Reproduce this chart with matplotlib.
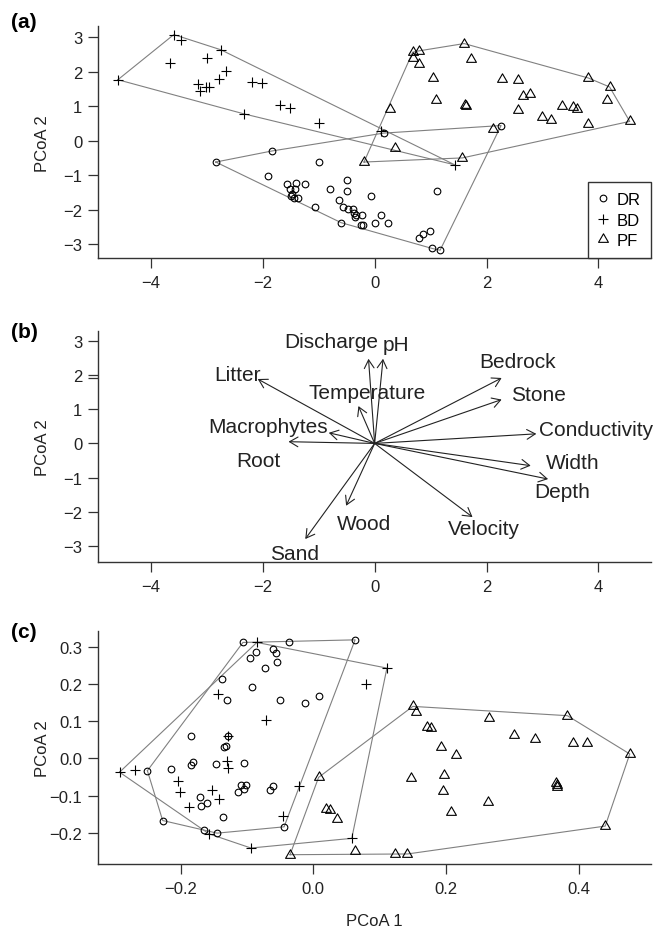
import matplotlib.pyplot as plt
import numpy as np
from matplotlib.path import Path
from matplotlib.ticker import FuncFormatter

plt.rcParams['font.family'] = ['Liberation Sans', 'DejaVu Sans']

groups = ['DR', 'BD', 'PF']

# ---- panel (a): PCoA of sites ----
a_dr_x = [-2.84, -1.84, -1.00, -1.90, -1.56, -1.40, -1.24, -1.51, -1.42, -1.48, -1.49, -1.45, -1.37,
          -1.06, -0.79, -0.50, -0.50, -0.06, 1.11, -0.63, -0.57, -0.47, -0.39, -0.37, -0.33, -0.23,
          -0.35, 0.11, -0.60, -0.24, -0.20, 0.00, 0.23, 0.99, 0.86, 0.80, 1.03, 1.17, 2.26, 0.16]
a_dr_y = [-0.62, -0.30, -0.62, -1.03, -1.27, -1.22, -1.27, -1.39, -1.39, -1.54, -1.61, -1.66, -1.65,
          -1.92, -1.41, -1.13, -1.47, -1.61, -1.46, -1.73, -1.92, -1.97, -1.99, -2.09, -2.17, -2.17,
          -2.22, -2.17, -2.38, -2.44, -2.44, -2.39, -2.39, -2.62, -2.71, -2.84, -3.13, -3.18, 0.44, 0.22]
a_bd_x = [-4.59, -3.59, -3.46, -3.65, -2.75, -3.00, -2.65, -2.79, -3.15, -3.13, -3.02, -2.96, -2.19,
          -2.01, -1.69, -1.52, -2.34, -0.99, 0.12, 1.43]
a_bd_y = [1.77, 3.08, 2.93, 2.25, 2.64, 2.40, 2.01, 1.80, 1.65, 1.45, 1.55, 1.55, 1.70,
          1.68, 1.03, 0.96, 0.78, 0.52, 0.28, -0.70]
a_pf_x = [-0.19, 0.28, 0.68, 0.80, 0.68, 0.80, 1.60, 1.72, 1.04, 2.28, 2.57, 1.09, 1.62, 1.64, 2.65,
          2.78, 2.57, 3.35, 3.54, 3.61, 4.16, 3.00, 3.16, 3.81, 2.11, 0.37, 3.82, 4.20, 4.56, 1.57]
a_pf_y = [-0.62, 0.93, 2.57, 2.61, 2.40, 2.24, 2.82, 2.38, 1.83, 1.80, 1.76, 1.19, 1.04, 1.02, 1.30,
          1.37, 0.88, 1.01, 0.98, 0.93, 1.17, 0.69, 0.61, 0.49, 0.35, -0.21, 1.82, 1.56, 0.56, -0.50]

# ---- panel (b): environmental vectors ----
env_names = ['Litter', 'Macrophytes', 'Root', 'Temperature', 'Discharge', 'pH', 'Bedrock', 'Stone',
             'Conductivity', 'Width', 'Depth', 'Velocity', 'Wood', 'Sand']
env_x = [-2.09, -0.82, -1.54, -0.29, -0.11, 0.15, 2.27, 2.27, 2.89, 2.79, 3.10, 1.75, -0.51, -1.24]
env_y = [1.88, 0.31, 0.05, 1.09, 2.47, 2.47, 1.91, 1.28, 0.28, -0.65, -1.04, -2.15, -1.82, -2.79]
env_lab_x = [-2.46, -1.90, -2.07, -0.13, -0.78, 0.39, 2.56, 2.93, 3.95, 3.54, 3.35, 1.95, -0.19, -1.44]
env_lab_y = [2.00, 0.50, -0.50, 1.49, 2.97, 2.90, 2.39, 1.44, 0.42, -0.57, -1.41, -2.49, -2.35, -3.22]

# ---- panel (c): PCoA ----
c_dr_x = [-0.106, -0.036, -0.087, -0.096, -0.061, -0.056, -0.054, -0.073, -0.138, -0.092, -0.130,
          -0.050, -0.012, 0.008, -0.184, -0.128, -0.132, -0.135, -0.182, -0.184, -0.215, -0.146,
          -0.104, -0.250, -0.109, -0.101, -0.104, -0.114, -0.065, -0.060, -0.170, -0.169, -0.160,
          -0.136, -0.227, -0.165, -0.145, -0.044, 0.063]
c_dr_y = [0.312, 0.312, 0.285, 0.269, 0.294, 0.283, 0.260, 0.243, 0.214, 0.191, 0.157,
          0.157, 0.148, 0.169, 0.059, 0.061, 0.034, 0.030, -0.010, -0.019, -0.028, -0.015,
          -0.011, -0.033, -0.071, -0.071, -0.082, -0.089, -0.085, -0.073, -0.103, -0.129, -0.120,
          -0.158, -0.167, -0.192, -0.201, -0.184, 0.319]
c_bd_x = [-0.292, -0.269, -0.085, -0.143, -0.072, -0.129, -0.130, -0.128, -0.204, -0.201, -0.152,
          -0.142, -0.187, -0.022, -0.046, -0.157, -0.094, 0.111, 0.080, 0.058]
c_bd_y = [-0.037, -0.030, 0.312, 0.173, 0.104, 0.061, -0.006, -0.026, -0.062, -0.091, -0.085,
          -0.109, -0.130, -0.073, -0.154, -0.203, -0.241, 0.243, 0.199, -0.215]
c_pf_x = [0.008, -0.035, 0.019, 0.025, 0.036, 0.063, 0.123, 0.142, 0.150, 0.155, 0.171, 0.177,
          0.265, 0.383, 0.477, 0.440, 0.193, 0.215, 0.302, 0.334, 0.392, 0.412, 0.147, 0.197,
          0.195, 0.208, 0.264, 0.366, 0.367, 0.368]
c_pf_y = [-0.051, -0.259, -0.136, -0.138, -0.163, -0.250, -0.257, -0.257, 0.140, 0.124, 0.085,
          0.081, 0.109, 0.115, 0.012, -0.182, 0.032, 0.008, 0.063, 0.051, 0.041, 0.041, -0.053,
          -0.044, -0.087, -0.143, -0.116, -0.067, -0.072, -0.077]

tri = Path([(0, 1), (-0.866, -0.5), (0.866, -0.5), (0, 1)], closed=True)
marker_style = {'DR': ('o', 4.8), 'BD': ('+', 7.4), 'PF': (tri, 8.2)}
hull_color = '#808080'
ink = '#222222'

W, H = 656, 929


def convex_hull(xs, ys):
    pts = sorted(set(zip(xs, ys)))

    def cross(o, a, b):
        return (a[0] - o[0]) * (b[1] - o[1]) - (a[1] - o[1]) * (b[0] - o[0])

    lower, upper = [], []
    for p in pts:
        while len(lower) >= 2 and cross(lower[-2], lower[-1], p) <= 0:
            lower.pop()
        lower.append(p)
    for p in reversed(pts):
        while len(upper) >= 2 and cross(upper[-2], upper[-1], p) <= 0:
            upper.pop()
        upper.append(p)
    ring = lower[:-1] + upper[:-1]
    ring.append(ring[0])
    return np.array(ring)


def px_axes(left, top, right, bottom):
    return fig.add_axes([left / W, 1 - bottom / H, (right - left) / W, (bottom - top) / H])


def style_axes(ax, xlim, ylim, xticks, yticks, fmt):
    ax.set_xlim(xlim)
    ax.set_ylim(ylim)
    ax.spines[['top', 'right']].set_visible(False)
    for s in ('left', 'bottom'):
        ax.spines[s].set_linewidth(1.0)
        ax.spines[s].set_color('#333333')
    ax.set_xticks(xticks)
    ax.set_yticks(yticks)
    f = FuncFormatter(lambda v, _: (fmt % v).replace('-', '\u2212'))
    ax.xaxis.set_major_formatter(f)
    ax.yaxis.set_major_formatter(f)
    ax.tick_params(direction='out', length=7, width=0.9, color='#333333',
                   labelsize=12, labelcolor=ink)
    ax.tick_params(axis='x', pad=5)
    ax.tick_params(axis='y', pad=4.5)
    ax.set_ylabel('PCoA 2', fontsize=12, color=ink)
    ax.yaxis.set_label_coords(-0.087, 0.5)


def scatter_groups(ax, data):
    for g, (xs, ys) in zip(groups, data):
        ring = convex_hull(xs, ys)
        ax.plot(ring[:, 0], ring[:, 1], color=hull_color, lw=0.8, zorder=1)
    for g, (xs, ys) in zip(groups, data):
        m, ms = marker_style[g]
        ax.plot(xs, ys, ls='none', marker=m, ms=ms, mfc='none', mec='black', mew=0.8,
                label=g, zorder=2)


fig = plt.figure(figsize=(W / 100, H / 100), dpi=100)

# (a)
ax_a = px_axes(98.3, 27, 651, 259.3)
scatter_groups(ax_a, [(a_dr_x, a_dr_y), (a_bd_x, a_bd_y), (a_pf_x, a_pf_y)])
style_axes(ax_a, (-4.94, 4.94), (-3.415, 3.33), [-4, -2, 0, 2, 4], [-3, -2, -1, 0, 1, 2, 3], '%.0f')
leg = ax_a.legend(loc='lower right', bbox_to_anchor=(1, 0), borderaxespad=0, fontsize=12,
                  frameon=True, fancybox=False, framealpha=1, edgecolor='#333333',
                  numpoints=1, handlelength=0.6, handletextpad=0.55, borderpad=0.6,
                  labelspacing=0.34)
leg.get_frame().set_linewidth(1.0)

# (b)
ax_b = px_axes(98.3, 331.7, 651, 563.3)
for name, x, y, lx, ly in zip(env_names, env_x, env_y, env_lab_x, env_lab_y):
    ax_b.annotate('', xy=(x, y), xytext=(0, 0),
                  arrowprops=dict(arrowstyle='->,head_length=0.6,head_width=0.35',
                                  color=ink, lw=0.8, shrinkA=0, shrinkB=0, mutation_scale=10))
    ax_b.text(lx, ly, name, fontsize=15, color=ink, ha='center', va='center')
style_axes(ax_b, (-4.94, 4.94), (-3.47, 3.29), [-4, -2, 0, 2, 4], [-3, -2, -1, 0, 1, 2, 3], '%.0f')
ax_b.set_yticks([1.92], minor=True)
ax_b.tick_params(axis='y', which='minor', direction='out', length=7, width=0.9, color='#333333')

# (c)
ax_c = px_axes(98.3, 632.3, 651, 865)
scatter_groups(ax_c, [(c_dr_x, c_dr_y), (c_bd_x, c_bd_y), (c_pf_x, c_pf_y)])
style_axes(ax_c, (-0.324, 0.509), (-0.284, 0.342), [-0.2, 0.0, 0.2, 0.4],
           [-0.2, -0.1, 0.0, 0.1, 0.2, 0.3], '%.1f')
ax_c.set_xlabel('PCoA 1', fontsize=12, color=ink)
ax_c.xaxis.set_label_coords(0.5, -0.212)

# panel letters
for lab, ypx in [('(a)', 23), ('(b)', 332.5), ('(c)', 632.5)]:
    fig.text(11 / W, 1 - ypx / H, lab, fontsize=15, fontweight='bold', ha='left', va='center')

fig.savefig('out.png', dpi=100)
